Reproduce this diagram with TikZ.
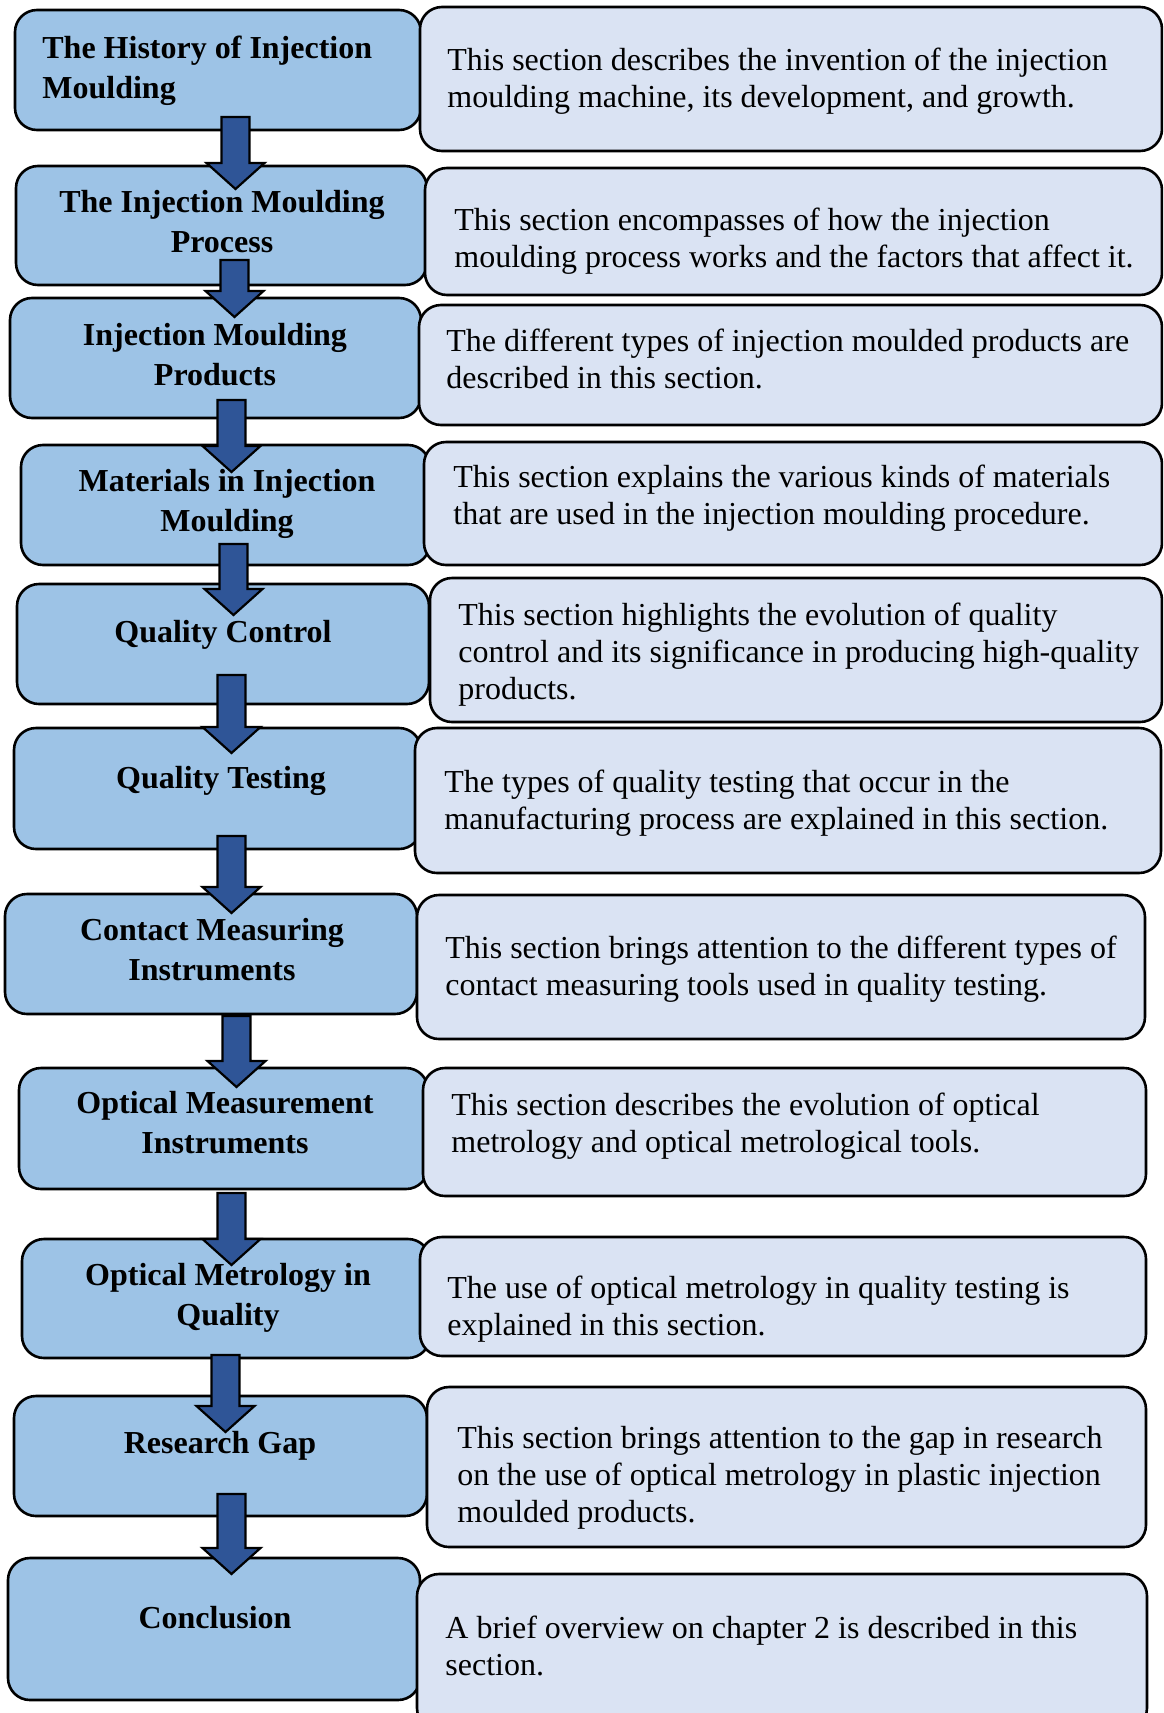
\documentclass[tikz,border=0pt]{standalone}
\usepackage{fontspec}
\setmainfont{Liberation Serif}
\usetikzlibrary{fit,calc}
\definecolor{lfill}{HTML}{9DC3E6}
\definecolor{rfill}{HTML}{DAE3F3}
\definecolor{afill}{HTML}{2F5597}
\tikzset{
  lbox/.style={draw=black, line width=1.3pt, fill=lfill, rounded corners=11pt, inner sep=0pt},
  rbox/.style={draw=black, line width=1.3pt, fill=rfill, rounded corners=11pt, inner sep=0pt},
  ltext/.style={inner sep=0pt, font=\fontsize{16pt}{20pt}\selectfont\bfseries, anchor=base},
  rtext/.style={inner sep=0pt, font=\fontsize{16pt}{18.5pt}\selectfont, anchor=base west},
  blockarrowstyle/.style={draw=black, line width=1.1pt, fill=afill, line join=miter},
}
\newcommand\blkarrow[2]{%
  \draw[blockarrowstyle] let \p1=(#1), \p2=(#2) in
    (\x1-7pt,\y1) -- (\x1+7pt,\y1) -- (\x1+7pt,\y2+13pt) -- (\x1+14.5pt,\y2+13pt)
    -- (\x1,\y2) -- (\x1-14.5pt,\y2+13pt) -- (\x1-7pt,\y2+13pt) -- cycle;}
\newcommand\ctext[1]{\parbox[t]{205pt}{\centering #1}}
\newcommand\rtxt[1]{\parbox[t]{370pt}{\raggedright #1}}
\begin{document}
\begin{tikzpicture}[x=0.5pt,y=-0.5pt]
\useasboundingbox (0,0) rectangle (1163,1713);
\clip (0,0) rectangle (1163,1713);
% left boxes
\node[lbox, fit={(15,10) (421,130)}] (L1) {};
\node[lbox, fit={(16,166) (427,285)}] (L2) {};
\node[lbox, fit={(10,298) (421,418)}] (L3) {};
\node[lbox, fit={(21,445) (430,565)}] (L4) {};
\node[lbox, fit={(17,584) (429,704)}] (L5) {};
\node[lbox, fit={(14,728) (421,849)}] (L6) {};
\node[lbox, fit={(5,894) (417,1014)}] (L7) {};
\node[lbox, fit={(19,1068) (428,1189)}] (L8) {};
\node[lbox, fit={(22,1239) (430,1358)}] (L9) {};
\node[lbox, fit={(14,1396) (427,1516)}] (L10) {};
\node[lbox, fit={(8,1558) (420,1700)}] (L11) {};
% right boxes
\node[rbox, fit={(420,7) (1162,151)}] (R1) {};
\node[rbox, fit={(425,168) (1162,295)}] (R2) {};
\node[rbox, fit={(419,305) (1162,425)}] (R3) {};
\node[rbox, fit={(424,442) (1162,565)}] (R4) {};
\node[rbox, fit={(430,578) (1162,722)}] (R5) {};
\node[rbox, fit={(415,728) (1161,873)}] (R6) {};
\node[rbox, fit={(417,895) (1145,1039)}] (R7) {};
\node[rbox, fit={(423,1068) (1146,1196)}] (R8) {};
\node[rbox, fit={(420,1237) (1146,1356)}] (R9) {};
\node[rbox, fit={(427,1387) (1146,1547)}] (R10) {};
\node[rbox, fit={(417,1574) (1147,1730)}] (R11) {};
% left texts
\node[ltext, anchor=base west] (L1t) at (42,58) {\parbox[t]{205pt}{\raggedright The History of Injection\\Moulding}};
\node[ltext] (L2t) at (222,212) {\ctext{The Injection Moulding\\Process}};
\node[ltext] (L3t) at (215,345) {\ctext{Injection Moulding\\Products}};
\node[ltext] (L4t) at (227,491) {\ctext{Materials in Injection\\Moulding}};
\node[ltext] (L5t) at (223,642) {\ctext{Quality Control}};
\node[ltext] (L6t) at (221,788) {\ctext{Quality Testing}};
\node[ltext] (L7t) at (212,940) {\ctext{Contact Measuring\\Instruments}};
\node[ltext] (L8t) at (225,1113) {\ctext{Optical Measurement\\Instruments}};
\node[ltext] (L9t) at (228,1285) {\ctext{Optical Metrology in\\Quality}};
\node[ltext] (L10t) at (220,1453) {\ctext{Research Gap}};
\node[ltext] (L11t) at (215,1628) {\ctext{Conclusion}};
% right texts
\node[rtext] (R1t) at (447,70) {\rtxt{This section describes the invention of the injection\\moulding machine, its development, and growth.}};
\node[rtext] (R2t) at (454,230) {\rtxt{This section encompasses of how the injection\\moulding process works and the factors that affect it.}};
\node[rtext] (R3t) at (446,351) {\rtxt{The different types of injection moulded products are\\described in this section.}};
\node[rtext] (R4t) at (453,487) {\rtxt{This section explains the various kinds of materials\\that are used in the injection moulding procedure.}};
\node[rtext] (R5t) at (458,625) {\rtxt{This section highlights the evolution of quality\\control and its significance in producing high-quality\\products.}};
\node[rtext] (R6t) at (444,792) {\rtxt{The types of quality testing that occur in the\\manufacturing process are explained in this section.}};
\node[rtext] (R7t) at (445,958) {\rtxt{This section brings attention to the different types of\\contact measuring tools used in quality testing.}};
\node[rtext] (R8t) at (451,1115) {\rtxt{This section describes the evolution of optical\\metrology and optical metrological tools.}};
\node[rtext] (R9t) at (447,1298) {\rtxt{The use of optical metrology in quality testing is\\explained in this section.}};
\node[rtext] (R10t) at (457,1448) {\rtxt{This section brings attention to the gap in research\\on the use of optical metrology in plastic injection\\moulded products.}};
\node[rtext] (R11t) at (445,1638) {\rtxt{A brief overview on chapter 2 is described in this\\section.}};
% arrow end points
\coordinate (a1s) at (235.5,117);  \coordinate (a1e) at (235.5,189);
\coordinate (a2s) at (234.5,260);  \coordinate (a2e) at (234.5,317);
\coordinate (a3s) at (231.5,400);  \coordinate (a3e) at (231.5,472);
\coordinate (a4s) at (233.5,544);  \coordinate (a4e) at (233.5,615);
\coordinate (a5s) at (231.5,675);  \coordinate (a5e) at (231.5,753);
\coordinate (a6s) at (231.5,836);  \coordinate (a6e) at (231.5,913);
\coordinate (a7s) at (236.5,1016); \coordinate (a7e) at (236.5,1087);
\coordinate (a8s) at (231.5,1193); \coordinate (a8e) at (231.5,1265);
\coordinate (a9s) at (225.5,1355); \coordinate (a9e) at (225.5,1432);
\coordinate (a10s) at (231.5,1494); \coordinate (a10e) at (231.5,1574);
\blkarrow{a1s}{a1e}
\blkarrow{a2s}{a2e}
\blkarrow{a3s}{a3e}
\blkarrow{a4s}{a4e}
\blkarrow{a5s}{a5e}
\blkarrow{a6s}{a6e}
\blkarrow{a7s}{a7e}
\blkarrow{a8s}{a8e}
\blkarrow{a9s}{a9e}
\blkarrow{a10s}{a10e}
\end{tikzpicture}
\end{document}
